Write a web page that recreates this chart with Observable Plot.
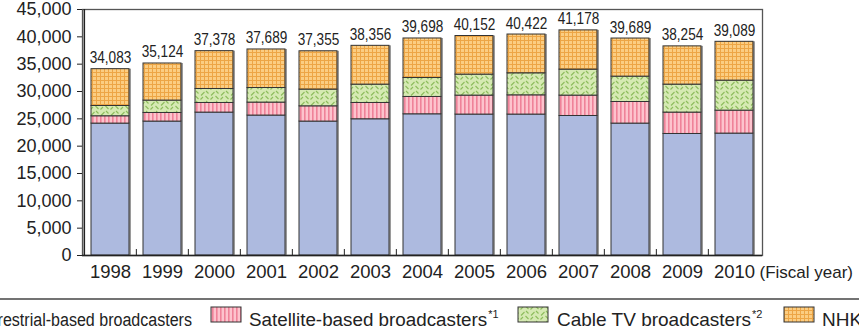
<!DOCTYPE html>
<html>
<head>
<meta charset="utf-8">
<script src="https://cdn.jsdelivr.net/npm/d3@7"></script>
<script src="https://cdn.jsdelivr.net/npm/@observablehq/plot@0.6"></script>
<style>
  html, body { margin: 0; padding: 0; background: #fff; }
  body { width: 859px; height: 333px; overflow: hidden; position: relative;
         font-family: "Liberation Sans", Arial, sans-serif; color: #222; }
  #chart { position: absolute; left: 0; top: 0; }
  #legend { position: absolute; left: 0; top: 290px; }
</style>
</head>
<body>
<!-- fill patterns shared by the bars and the legend swatches -->
<svg width="0" height="0" style="position:absolute">
  <defs>
    <pattern id="pSat" patternUnits="userSpaceOnUse" width="4" height="4">
      <rect width="4" height="4" fill="#fdc3cd"/>
      <rect x="0" width="1.6" height="4" fill="#ef8299"/>
    </pattern>
    <pattern id="pCable" patternUnits="userSpaceOnUse" width="10" height="10">
      <rect width="10" height="10" fill="#d6eab3"/>
      <path d="M1,5.5 L4.5,2 M5.5,6 L8.5,9 M6,1 L8.5,3.5 M0.5,9.5 L3,7" stroke="#8dbd5c" stroke-width="1.1" fill="none"/>
    </pattern>
    <pattern id="pNhk" patternUnits="userSpaceOnUse" width="4" height="4">
      <rect width="4" height="4" fill="#fbcd82"/>
      <rect x="0" width="1" height="4" fill="#eda545"/>
      <rect y="0" width="4" height="1" fill="#eda545"/>
    </pattern>
  </defs>
</svg>
<div id="chart"></div>
<svg id="legend" width="859" height="43"></svg>
<script>
// Broadcasting industry revenue by segment, fiscal years 1998–2010
const years = ["1998", "1999", "2000", "2001", "2002", "2003", "2004",
               "2005", "2006", "2007", "2008", "2009", "2010"];
const series = ["Terrestrial-based broadcasters", "Satellite-based broadcasters",
                "Cable TV broadcasters", "NHK"];
const terrestrial = [24130, 24500, 26140, 25600, 24500, 24920, 25830, 25780, 25780, 25520, 24130, 22230, 22300];
const satellite   = [1340, 1570, 1760, 2370, 2790, 2980, 3170, 3470, 3520, 3730, 3950, 3910, 4200];
const cable       = [1880, 2270, 2560, 2670, 3060, 3360, 3470, 3840, 4030, 4750, 4640, 5120, 5490];
const nhk         = [6733, 6784, 6918, 7049, 7005, 7096, 7228, 7062, 7092, 7178, 6969, 6994, 7099];
const totals      = [34083, 35124, 37378, 37689, 37355, 38356, 39698, 40152, 40422, 41178, 39689, 38254, 39089];
const yTicks = [0, 5000, 10000, 15000, 20000, 25000, 30000, 35000, 40000, 45000];

const fills = ["#adbadf", "url(#pSat)", "url(#pCable)", "url(#pNhk)"];

// long table, bottom segment first so the stack keeps this order
const valuesBySeries = [terrestrial, satellite, cable, nhk];
const rows = [];
series.forEach((s, i) => years.forEach((y, j) => rows.push({year: y, series: s, value: valuesBySeries[i][j]})));
const totalRows = years.map((y, j) => ({year: y, total: totals[j]}));
const boundaries = years.slice(1);

const W = 859, H = 290, mL = 82, mR = 97;
const step = (W - mL - mR) / years.length;
const fmt = d3.format(",");
const narrow = 0.8; // horizontal squeeze for the condensed total labels

const chart = Plot.plot({
  width: W,
  height: H,
  marginLeft: mL,
  marginRight: mR,
  marginTop: 9,
  marginBottom: 35,
  style: {fontFamily: "'Liberation Sans', Arial, sans-serif", color: "#222", background: "transparent"},
  x: {domain: years, paddingInner: 0.27, paddingOuter: 0.135},
  y: {domain: [0, 45000]},
  color: {type: "ordinal", domain: series, range: fills},
  marks: [
    Plot.frame({stroke: "#555", strokeWidth: 1.3}),
    // drop shadow on the right of each column
    Plot.barY(totalRows, {x: "year", y: "total", fill: "#9a9a9a", dx: 2}),
    Plot.barY(rows, {x: "year", y: "value", fill: "series", stroke: "#333", strokeWidth: 1}),
    Plot.text(totalRows, {
      x: "year", y: "total", text: d => fmt(d.total), dy: -6, lineAnchor: "bottom",
      fontSize: 17, fill: "#222", className: "total-label"
    }),
    // short ticks between the columns on the baseline
    Plot.ruleX(boundaries, {x: d => d, y1: 0, y2: 0, dx: -step / 2, insetTop: -6, stroke: "#222"}),
    Plot.ruleY([0], {stroke: "#222", strokeWidth: 1.5}),
    Plot.ruleX([years[0]], {dx: -(step * 0.5), stroke: "#222", strokeWidth: 1.5}),
    Plot.axisY({ticks: yTicks, tickFormat: fmt, tickSize: 5, tickPadding: 6, fontSize: 18, label: null, stroke: "#222"}),
    Plot.axisX({tickSize: 0, tickPadding: 9, fontSize: 18.5, label: null}),
    Plot.text(["(Fiscal year)"], {frameAnchor: "bottom-right", textAnchor: "start", lineAnchor: "middle",
      dx: -3, dy: 17, fontSize: 17, fill: "#222"})
  ]
});
document.getElementById("chart").append(chart);

// squeeze the total labels horizontally to a condensed face
d3.select(chart).selectAll("g.total-label text").each(function() {
  const t = this.getAttribute("transform") || "";
  this.setAttribute("transform", t + ` scale(${narrow},1)`);
});

// legend below the divider line
const leg = d3.select("#legend");
leg.append("line").attr("x1", 0).attr("x2", 859).attr("y1", 9).attr("y2", 9)
  .attr("stroke", "#444").attr("stroke-width", 1.5);
const legendItems = [
  {swatchX: -62, textX: 192, anchor: "end", sx: 0.845},
  {swatchX: 211, textX: 249, anchor: "start", sx: 0.99, sup: "*1"},
  {swatchX: 518, textX: 557, anchor: "start", sx: 1.0, sup: "*2"},
  {swatchX: 784, textX: 822, anchor: "start", sx: 1.0}
];
legendItems.forEach((it, i) => {
  leg.append("rect").attr("x", it.swatchX).attr("y", 17).attr("width", 30).attr("height", 15)
    .attr("fill", fills[i]).attr("stroke", "#333").attr("stroke-width", 1);
  const t = leg.append("text")
    .attr("transform", `translate(${it.textX},36) scale(${it.sx},1)`)
    .attr("text-anchor", it.anchor)
    .attr("font-size", 19).attr("fill", "#222").text(series[i]);
  if (it.sup) t.append("tspan").attr("dy", -8).attr("dx", 1).attr("font-size", 11).text(it.sup);
});
</script>
</body>
</html>
